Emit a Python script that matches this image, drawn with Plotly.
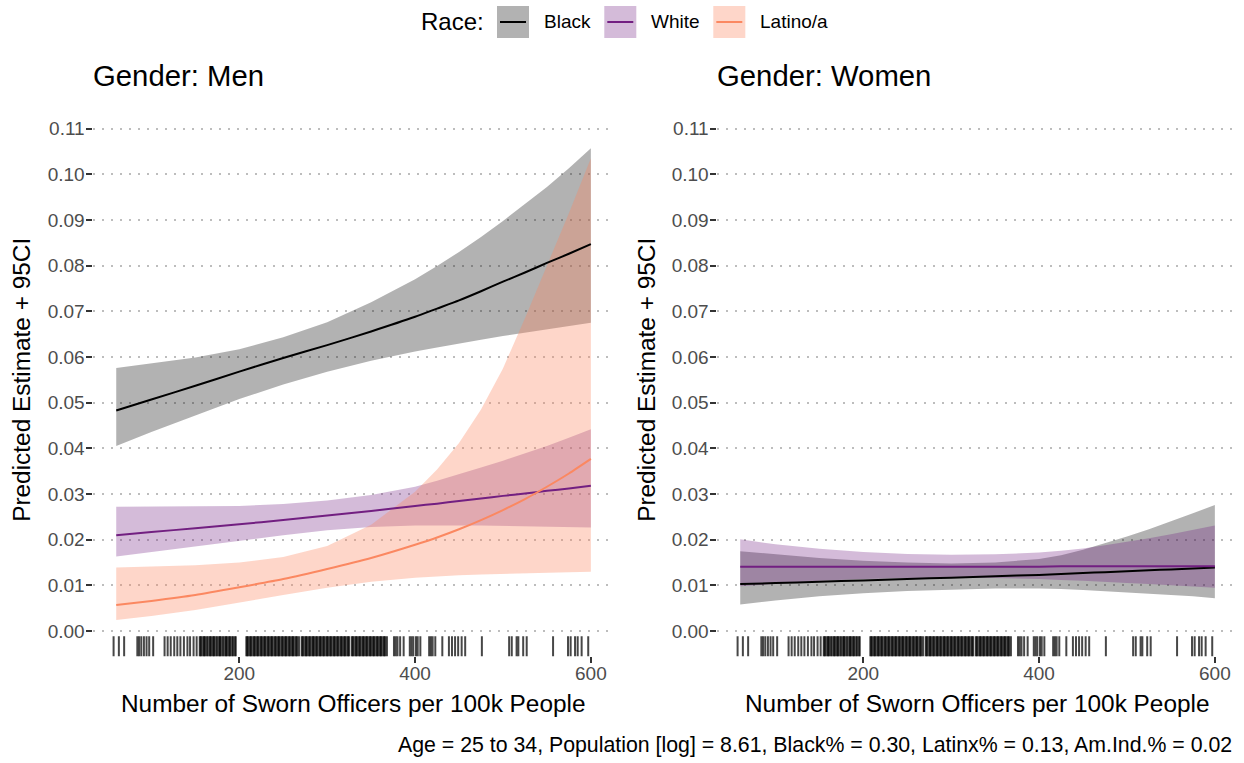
import plotly.graph_objects as go

W, H = 1244, 763

# ---------------- data ----------------
x_pred = [60, 100, 150, 200, 250, 300, 350, 400, 425, 450, 475, 500, 525, 550, 575, 600]

men_black_fit = [0.0483, 0.0507, 0.0537, 0.0568, 0.0598, 0.0626, 0.0656, 0.0688, 0.0706, 0.0724, 0.0744, 0.0765, 0.0785, 0.0806, 0.0826, 0.0847]
men_black_lo = [0.0405, 0.0436, 0.0472, 0.0508, 0.0540, 0.0568, 0.0592, 0.0612, 0.0621, 0.0630, 0.0638, 0.0646, 0.0654, 0.0661, 0.0668, 0.0675]
men_black_hi = [0.0576, 0.0586, 0.0599, 0.0617, 0.0643, 0.0676, 0.0720, 0.0770, 0.0799, 0.0830, 0.0863, 0.0898, 0.0934, 0.0972, 0.1013, 0.1057]

men_white_fit = [0.0210, 0.0217, 0.0225, 0.0234, 0.0243, 0.0253, 0.0263, 0.0274, 0.0279, 0.0285, 0.0290, 0.0296, 0.0301, 0.0307, 0.0312, 0.0318]
men_white_lo = [0.0163, 0.0173, 0.0186, 0.0198, 0.0210, 0.0221, 0.0228, 0.0231, 0.0231, 0.0231, 0.0231, 0.0230, 0.0230, 0.0229, 0.0228, 0.0227]
men_white_hi = [0.0272, 0.0273, 0.0273, 0.0274, 0.0278, 0.0286, 0.0298, 0.0316, 0.0329, 0.0343, 0.0358, 0.0373, 0.0389, 0.0405, 0.0423, 0.0442]

men_lat_fit = [0.0057, 0.0066, 0.0079, 0.0096, 0.0114, 0.0136, 0.0160, 0.0189, 0.0205, 0.0223, 0.0243, 0.0265, 0.0289, 0.0316, 0.0345, 0.0377]
men_lat_lo = [0.0024, 0.0033, 0.0046, 0.0062, 0.0079, 0.0095, 0.0108, 0.0117, 0.0120, 0.0122, 0.0124, 0.0126, 0.0127, 0.0128, 0.0129, 0.0130]
men_lat_hi = [0.0139, 0.0141, 0.0144, 0.0150, 0.0162, 0.0186, 0.0233, 0.0305, 0.0354, 0.0412, 0.0485, 0.0575, 0.0685, 0.0800, 0.0915, 0.1035]

women_black_fit = [0.0103, 0.0105, 0.0108, 0.0111, 0.0114, 0.0117, 0.0120, 0.0123, 0.0125, 0.0127, 0.0129, 0.0131, 0.0133, 0.0135, 0.0137, 0.0139]
women_black_lo = [0.0058, 0.0067, 0.0076, 0.0083, 0.0088, 0.0091, 0.0093, 0.0093, 0.0092, 0.0090, 0.0088, 0.0085, 0.0082, 0.0079, 0.0076, 0.0072]
women_black_hi = [0.0175, 0.0168, 0.0160, 0.0154, 0.0150, 0.0148, 0.0150, 0.0158, 0.0166, 0.0178, 0.0192, 0.0207, 0.0223, 0.0240, 0.0258, 0.0276]

women_white_fit = [0.0141, 0.0141, 0.0141, 0.0141, 0.0141, 0.0141, 0.0141, 0.0141, 0.0142, 0.0142, 0.0142, 0.0142, 0.0142, 0.0142, 0.0142, 0.0142]
women_white_lo = [0.0098, 0.0104, 0.0110, 0.0114, 0.0116, 0.0117, 0.0116, 0.0114, 0.0112, 0.0110, 0.0108, 0.0105, 0.0103, 0.0100, 0.0098, 0.0095]
women_white_hi = [0.0201, 0.0190, 0.0180, 0.0173, 0.0169, 0.0167, 0.0168, 0.0172, 0.0176, 0.0181, 0.0188, 0.0195, 0.0203, 0.0212, 0.0221, 0.0231]

rug_officers = [57, 63, 69,
                84, 86, 88.5, 91.5, 94.5, 97.5, 102,
                115, 118.5, 122, 126, 129.5, 133, 137, 141, 144, 148, 151.5,
                155, 156, 157, 159, 160, 161, 163, 164, 166, 167, 168, 170, 171, 172, 174, 175, 177, 178,
                179, 181, 182, 184, 185, 186, 188, 189, 190, 192, 193, 195, 196,
                208, 209, 210, 212, 213, 214, 216, 217, 218, 220, 221, 222, 224, 225, 226, 228, 229, 230,
                232, 233, 234, 236, 237, 238, 240, 241, 242, 244, 245, 246, 248, 249, 250, 252, 253, 254,
                256, 257, 258, 260, 261, 262, 264, 265, 266, 268, 271, 272, 273, 275, 276, 277, 279, 280,
                281, 283, 284, 285, 287, 288, 289, 291, 292, 293, 295, 296, 297, 299, 300, 301, 303, 304,
                305, 307, 308, 309, 311, 312, 313, 315, 316, 317, 319, 320, 321, 323, 324, 325, 328, 329,
                330, 332, 333, 334, 336, 337, 338, 340, 341, 342, 344, 345, 346, 348, 349, 350, 352, 353,
                354, 356, 357, 358, 360, 361, 362, 364, 365, 366, 368,
                376, 378, 380, 383, 387, 394, 396, 398, 401, 403, 406, 416, 418, 420, 423,
                431, 438.5, 442, 445.5, 449, 453, 457, 476, 507, 510, 515.5, 517.5, 523, 527,
                557, 574, 577, 582, 585, 589.5, 597]

y_ticks = [0.00, 0.01, 0.02, 0.03, 0.04, 0.05, 0.06, 0.07, 0.08, 0.09, 0.10, 0.11]
x_ticks = [200, 400, 600]

race_labels = ["Black", "White", "Latino/a"]
race_lines = ["#000000", "#721F81", "#FB8861"]
race_fills = ["rgba(0,0,0,0.3)", "rgba(114,31,129,0.3)", "rgba(251,136,97,0.34)"]

panel_titles = ["Gender: Men", "Gender: Women"]
x_title = "Number of Sworn Officers per 100k People"
y_title = "Predicted Estimate + 95CI"
caption = "Age = 25 to 34, Population [log] = 8.61, Black% = 0.30, Latinx% = 0.13, Am.Ind.% = 0.02"

# ---------------- layout geometry (pixels) ----------------
FONT = "Liberation Sans, Arial, Helvetica, sans-serif"
X_RANGE = [33, 627]
Y_RANGE = [-0.0055, 0.1155]
PANEL_TOP, PANEL_BOT = 103.5, 656.2
LEFT_PANEL = (92.5, 614.6)
RIGHT_PANEL = (716.5, 1238.6)

def px_x(p):
    return p / W

def px_y(p):
    return (H - p) / H

fig = go.Figure()

def add_band(x, lo, hi, fill, xa, ya):
    fig.add_trace(go.Scatter(
        x=x + x[::-1], y=hi + lo[::-1], fill="toself", fillcolor=fill,
        mode="lines", line=dict(width=0, color="rgba(0,0,0,0)"),
        hoverinfo="skip", showlegend=False, xaxis=xa, yaxis=ya))

def add_line(x, y, color, xa, ya):
    fig.add_trace(go.Scatter(
        x=x, y=y, mode="lines", line=dict(width=2, color=color, shape="spline", smoothing=0.6),
        hoverinfo="skip", showlegend=False, xaxis=xa, yaxis=ya))

panel_h = PANEL_BOT - PANEL_TOP
rug_len = 0.03 * panel_h
rug_y = Y_RANGE[0] + 0.015 * (Y_RANGE[1] - Y_RANGE[0])
RUG_COLOR = "rgba(0,0,0,0.72)"

def add_rug(xa, ya):
    fig.add_trace(go.Scatter(
        x=rug_officers, y=[rug_y] * len(rug_officers), mode="markers",
        marker=dict(symbol="line-ns-open", size=rug_len, color=RUG_COLOR,
                    line=dict(width=2, color=RUG_COLOR)),
        hoverinfo="skip", showlegend=False, xaxis=xa, yaxis=ya))

# Men panel
men = [(men_black_fit, men_black_lo, men_black_hi),
       (men_white_fit, men_white_lo, men_white_hi),
       (men_lat_fit, men_lat_lo, men_lat_hi)]
for i, (f, lo, hi) in enumerate(men):
    add_band(x_pred, lo, hi, race_fills[i], "x", "y")
for i, (f, lo, hi) in enumerate(men):
    add_line(x_pred, f, race_lines[i], "x", "y")
add_rug("x", "y")

# Women panel (black drawn first, then white)
women = [(women_black_fit, women_black_lo, women_black_hi),
         (women_white_fit, women_white_lo, women_white_hi)]
for i, (f, lo, hi) in enumerate(women):
    add_band(x_pred, lo, hi, race_fills[i], "x2", "y2")
for i, (f, lo, hi) in enumerate(women):
    add_line(x_pred, f, race_lines[i], "x2", "y2")
add_rug("x2", "y2")

tick_font = dict(family=FONT, size=19, color="#4D4D4D")
xaxis_common = dict(range=X_RANGE, tickvals=x_ticks, ticks="outside", ticklen=6, tickwidth=1.5,
                    tickcolor="#333333", showgrid=False, zeroline=False, showline=False,
                    tickfont=tick_font, fixedrange=True, ticklabelstandoff=-6)
yaxis_common = dict(range=Y_RANGE, tickvals=y_ticks, ticktext=[f"{v:.2f}" for v in y_ticks],
                    ticks="outside", ticklen=6, tickwidth=1.5, tickcolor="#333333",
                    showgrid=True, gridcolor="#BDBDBD", gridwidth=2, griddash="2px,7px",
                    zeroline=False, showline=False, tickfont=tick_font, fixedrange=True,
                    ticklabelstandoff=-3)

ydom = [px_y(PANEL_BOT), px_y(PANEL_TOP)]
fig.update_layout(
    width=W, height=H,
    margin=dict(l=0, r=0, t=0, b=0),
    paper_bgcolor="white", plot_bgcolor="white",
    font=dict(family=FONT, color="black"),
    showlegend=False,
    xaxis=dict(domain=[px_x(LEFT_PANEL[0]), px_x(LEFT_PANEL[1])], anchor="y", **xaxis_common),
    yaxis=dict(domain=ydom, anchor="x", **yaxis_common),
    xaxis2=dict(domain=[px_x(RIGHT_PANEL[0]), px_x(RIGHT_PANEL[1])], anchor="y2", **xaxis_common),
    yaxis2=dict(domain=ydom, anchor="x2", **yaxis_common),
)

ann = []
for (l, r), t in zip([LEFT_PANEL, RIGHT_PANEL], panel_titles):
    ann.append(dict(x=px_x(l - 2), y=px_y(75), xref="paper", yref="paper", text=t, showarrow=False,
                    xanchor="left", yanchor="middle", font=dict(family=FONT, size=29.3, color="black")))
    ann.append(dict(x=px_x((l + r) / 2), y=px_y(703), xref="paper", yref="paper", text=x_title,
                    showarrow=False, xanchor="center", yanchor="middle",
                    font=dict(family=FONT, size=24.4, color="black")))
for cx in [22, 647]:
    ann.append(dict(x=px_x(cx), y=px_y((PANEL_TOP + PANEL_BOT) / 2), xref="paper", yref="paper",
                    text=y_title, textangle=-90, showarrow=False, xanchor="center", yanchor="middle",
                    font=dict(family=FONT, size=24.4, color="black")))
ann.append(dict(x=px_x(1234), y=px_y(745), xref="paper", yref="paper", text=caption, showarrow=False,
                xanchor="right", yanchor="middle", font=dict(family=FONT, size=21.3, color="black")))

# legend (ggplot-style keys)
ann.append(dict(x=px_x(419), y=px_y(22), xref="paper", yref="paper", text="Race:", showarrow=False,
                xanchor="left", yanchor="middle", font=dict(family=FONT, size=24, color="black")))
key_left = [497, 604.3, 713.3]
label_left = [542, 649, 758]
shapes = []
for i, lab in enumerate(race_labels):
    k0 = key_left[i]
    shapes.append(dict(type="rect", xref="paper", yref="paper",
                       x0=px_x(k0), x1=px_x(k0 + 32), y0=px_y(38), y1=px_y(6),
                       fillcolor=race_fills[i], line=dict(width=0)))
    shapes.append(dict(type="line", xref="paper", yref="paper",
                       x0=px_x(k0 + 3), x1=px_x(k0 + 29), y0=px_y(22), y1=px_y(22),
                       line=dict(width=2, color=race_lines[i])))
    ann.append(dict(x=px_x(label_left[i]), y=px_y(22), xref="paper", yref="paper", text=lab,
                    showarrow=False, xanchor="left", yanchor="middle",
                    font=dict(family=FONT, size=19, color="black")))

fig.update_layout(annotations=ann, shapes=shapes)
fig.write_html("out.html", config={"displayModeBar": False},
               post_script="document.body.style.margin='0px';")
